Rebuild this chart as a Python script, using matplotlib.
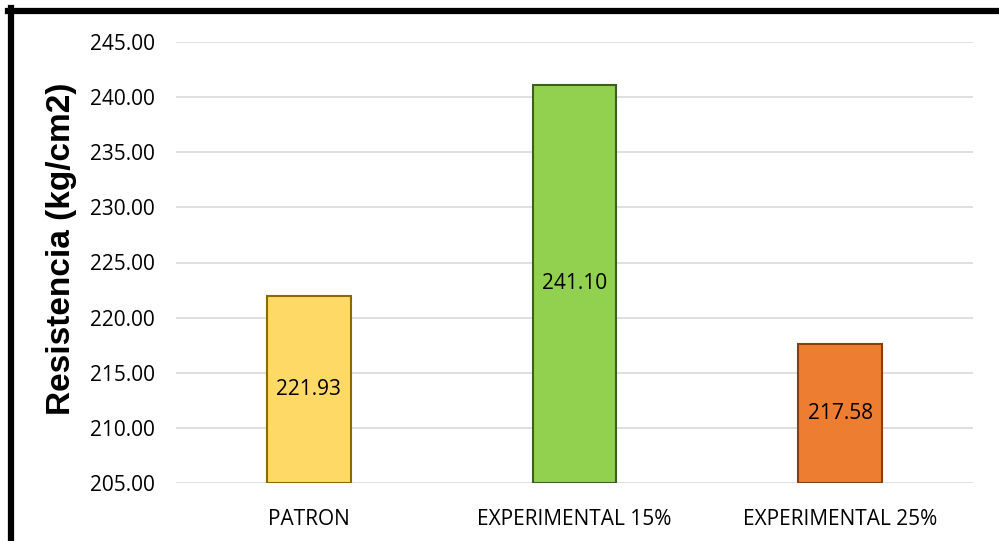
import matplotlib.pyplot as plt
from matplotlib.lines import Line2D

categories = ["PATRON", "EXPERIMENTAL 15%", "EXPERIMENTAL 25%"]
resistencia = [221.93, 241.10, 217.58]
fill_colors = ["#FFD966", "#92D050", "#ED7D31"]
edge_colors = ["#8C6A00", "#3B5E23", "#8A3E0E"]

plt.rcParams["font.family"] = ["Open Sans", "DejaVu Sans"]

fig = plt.figure(figsize=(9.99, 5.41), dpi=100)
ax = fig.add_axes([176 / 999, 1 - 483 / 541, 797 / 999, 441 / 541])

base = 205.0
x = range(len(categories))
bars = ax.bar(x, [v - base for v in resistencia], bottom=base, width=0.316,
              color=fill_colors, edgecolor=edge_colors, linewidth=1.5, zorder=3)

for b, v in zip(bars, resistencia):
    ax.text(b.get_x() + b.get_width() / 2, base + (v - base) / 2, f"{v:.2f}",
            ha="center", va="center", fontsize=15, color="black", zorder=4)

ax.set_xlim(-0.5, 2.5)
ax.set_ylim(205, 245)
ax.set_yticks(range(205, 246, 5))
ax.set_yticklabels([f"{t:.2f}" for t in range(205, 246, 5)])
ax.set_xticks(list(x))
ax.set_xticklabels(categories)
ax.tick_params(axis="y", length=0, pad=15, labelsize=15)
ax.tick_params(axis="x", length=0, pad=19, labelsize=15)
ax.grid(axis="y", color="#D9D9D9", linewidth=1.2, zorder=0)
for s in ax.spines.values():
    s.set_visible(False)

ax.set_ylabel("Resistencia (kg/cm2)", fontsize=24, fontweight="bold",
              family=["Liberation Sans", "DejaVu Sans"])
ax.yaxis.set_label_coords(-0.124, 0.53)

# black frame along the top and left edges
fig.add_artist(Line2D([10.5 / 999, 10.5 / 999], [0, 1 - 8 / 541],
                      transform=fig.transFigure, color="black", linewidth=4.5))
fig.add_artist(Line2D([8 / 999, 1], [1 - 10.5 / 541, 1 - 10.5 / 541],
                      transform=fig.transFigure, color="black", linewidth=4.5))

fig.savefig("out.png", dpi=100)
